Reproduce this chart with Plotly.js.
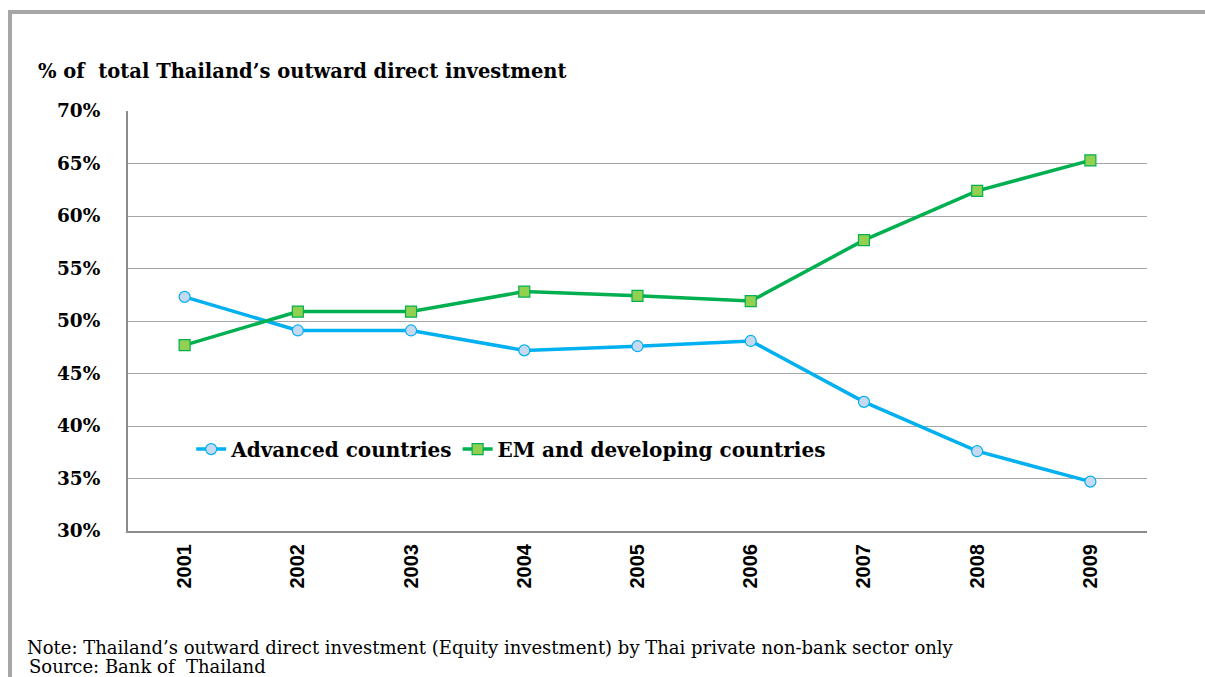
<!DOCTYPE html>
<html>
<head>
<meta charset="utf-8">
<script src="https://cdn.plot.ly/plotly-3.0.1.min.js"></script>
<style>
  html, body { margin: 0; padding: 0; background: #ffffff; }
  #wrap { position: relative; width: 1205px; height: 677px; overflow: hidden; }
  #chart { position: absolute; left: 0; top: 0; width: 1205px; height: 677px; }
  #frame {
    position: absolute; left: 8px; top: 10px; right: -10px; bottom: -10px;
    border-top: 4px solid #a6a6a6; border-left: 4px solid #a6a6a6;
    pointer-events: none;
  }
</style>
</head>
<body>
<div id="wrap">
  <div id="chart"></div>
  <div id="frame"></div>
</div>
<script>
// Share of Thailand's outward direct investment by destination group (%)
const years = ['2001', '2002', '2003', '2004', '2005', '2006', '2007', '2008', '2009'];
const advanced = [52.3, 49.1, 49.1, 47.2, 47.6, 48.1, 42.3, 37.6, 34.7];
const emerging = [47.7, 50.9, 50.9, 52.8, 52.4, 51.9, 57.7, 62.4, 65.3];
const yTicks = [30, 35, 40, 45, 50, 55, 60, 65, 70];
const yTickText = ['30%', '35%', '40%', '45%', '50%', '55%', '60%', '65%', '70%'];

const serif = 'DejaVu Serif, Liberation Serif, serif';

const traces = [
  {
    x: years, y: advanced, name: 'Advanced countries',
    type: 'scatter', mode: 'lines+markers',
    line: { color: '#00b0f0', width: 3.5 },
    marker: { symbol: 'circle', size: 11, color: '#c6d9f1', line: { color: '#00b0f0', width: 1.2 } }
  },
  {
    x: years, y: emerging, name: 'EM and developing countries',
    type: 'scatter', mode: 'lines+markers',
    line: { color: '#00b050', width: 3.5 },
    marker: { symbol: 'square', size: 11, color: '#92d050', line: { color: '#00b050', width: 1.2 } }
  }
];

const layout = {
  width: 1205, height: 677,
  margin: { l: 128, r: 58, t: 111, b: 146 },
  paper_bgcolor: '#ffffff', plot_bgcolor: '#ffffff',
  showlegend: true,
  legend: {
    orientation: 'h', x: 0.062, y: 0.195, xanchor: 'left', yanchor: 'middle',
    font: { family: serif, size: 20, color: '#000000', weight: 'bold' },
    bgcolor: 'rgba(0,0,0,0)', itemwidth: 30, tracegroupgap: 0
  },
  title: {
    text: '<b>% of  total Thailand’s outward direct investment</b>',
    xref: 'container', yref: 'container',
    x: 38 / 1205, xanchor: 'left', y: 1 - 71 / 677, yanchor: 'middle',
    font: { family: serif, size: 19.5, color: '#000000' }
  },
  xaxis: {
    type: 'category', range: [-0.5, 8.5],
    showgrid: false, zeroline: false,
    showline: true, linecolor: '#8c8c8c', linewidth: 2,
    ticks: '', tickangle: -90, ticklabelstandoff: 3,
    tickfont: { family: 'Liberation Sans, Arial, sans-serif', size: 20, color: '#000000', weight: 'bold' }
  },
  yaxis: {
    range: [30, 70], tickvals: yTicks, ticktext: yTickText,
    showgrid: true, gridcolor: '#a6a6a6', gridwidth: 1,
    zeroline: false, showline: true, linecolor: '#8c8c8c', linewidth: 2,
    ticks: '', ticklabelstandoff: 22,
    tickfont: { family: serif, size: 18.5, color: '#000000', weight: 'bold' }
  },
  annotations: [
    {
      text: 'Note: Thailand’s outward direct investment (Equity investment) by Thai private non-bank sector only',
      xref: 'paper', yref: 'paper', x: (25 - 128) / 1019, y: (531 - 647) / 420,
      xanchor: 'left', yanchor: 'middle', showarrow: false,
      font: { family: serif, size: 18, color: '#000000' }
    },
    {
      text: 'Source: Bank of  Thailand',
      xref: 'paper', yref: 'paper', x: (27 - 128) / 1019, y: (531 - 666) / 420,
      xanchor: 'left', yanchor: 'middle', showarrow: false,
      font: { family: serif, size: 18, color: '#000000' }
    }
  ]
};

Plotly.newPlot('chart', traces, layout, { displayModeBar: false, staticPlot: true });
</script>
</body>
</html>
